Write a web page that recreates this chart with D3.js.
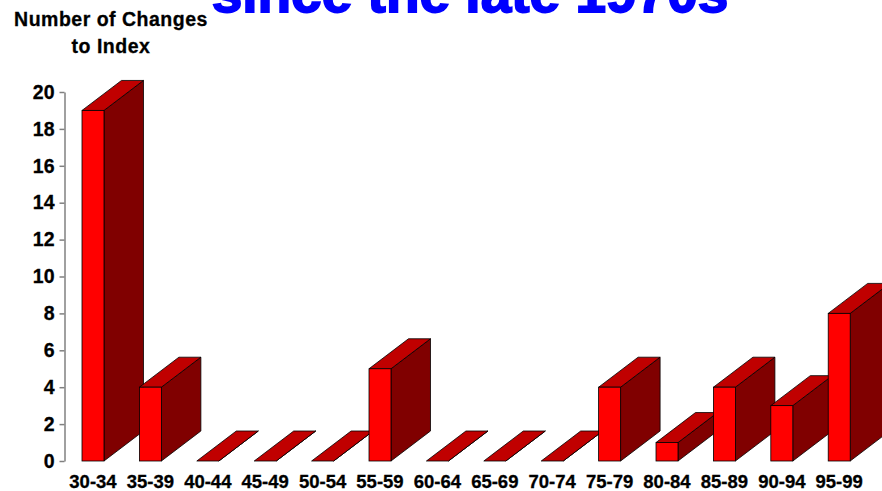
<!DOCTYPE html>
<html>
<head>
<meta charset="utf-8">
<script src="https://cdn.jsdelivr.net/npm/d3@7"></script>
<style>
  html, body { margin: 0; padding: 0; background: #fff; }
  svg { display: block; }
  text { font-family: "Liberation Sans", Arial, sans-serif; font-weight: bold; }
</style>
</head>
<body>
<svg id="chart" width="882" height="491"></svg>
<script>
const categories = ["30-34","35-39","40-44","45-49","50-54","55-59","60-64","65-69","70-74","75-79","80-84","85-89","90-94","95-99"];
const changes = [19, 4, 0, 0, 0, 5, 0, 0, 0, 4, 1, 4, 3, 8];
const yTicks = [0, 2, 4, 6, 8, 10, 12, 14, 16, 18, 20];
const titleText = "since the late 1970s";
const yLabelLines = ["Number of Changes", "to Index"];

const svg = d3.select("#chart");

const y = d3.scaleLinear().domain([0, 20]).range([461, 92]);
const x = d3.scaleBand().domain(categories).range([82, 850.2]).paddingInner(0.617).paddingOuter(0);
const dx = 39.5, dy = 30;
const bw = x.bandwidth();

// title (cut off at the top edge, as in the reference)
svg.append("text")
  .attr("x", 470).attr("y", 11.5)
  .attr("text-anchor", "middle")
  .attr("font-size", 55)
  .attr("fill", "#0000ff")
  .attr("stroke", "#0000ff")
  .attr("stroke-width", 1.8)
  .text(titleText);

// y axis label
svg.append("g").selectAll("text").data(yLabelLines).join("text")
  .attr("x", 111).attr("y", (d, i) => 25.5 + i * 27)
  .attr("text-anchor", "middle")
  .attr("font-size", 19.5)
  .attr("letter-spacing", 0.5)
  .attr("fill", "#000")
  .attr("stroke", "#000")
  .attr("stroke-width", 0.3)
  .text(d => d);

// y axis
const yAxis = svg.append("g")
  .attr("transform", "translate(64.5,0)")
  .call(d3.axisLeft(y).tickValues(yTicks).tickSize(5).tickSizeOuter(0).tickPadding(5));
yAxis.select(".domain").attr("stroke", "#808080").attr("stroke-width", 1.5);
yAxis.selectAll(".tick line").attr("stroke", "#808080").attr("stroke-width", 1.5);
yAxis.selectAll(".tick text")
  .attr("font-size", 19.5)
  .attr("font-family", "Liberation Sans, Arial, sans-serif")
  .attr("font-weight", "bold")
  .attr("fill", "#000")
  .attr("stroke", "#000")
  .attr("stroke-width", 0.3);

// bars
const bars = svg.append("g").selectAll("g").data(categories).join("g");
bars.each(function(c, i) {
  const g = d3.select(this);
  const x0 = x(c), x1 = x0 + bw;
  const yt = y(changes[i]), yb = y(0);
  g.append("polygon")
    .attr("points", [[x1, yt], [x1 + dx, yt - dy], [x1 + dx, yb - dy], [x1, yb]].map(p => p.join(",")).join(" "))
    .attr("fill", "#800000").attr("stroke", "#000").attr("stroke-width", 0.8).attr("stroke-linejoin", "round");
  g.append("polygon")
    .attr("points", [[x0, yt], [x0 + dx, yt - dy], [x1 + dx, yt - dy], [x1, yt]].map(p => p.join(",")).join(" "))
    .attr("fill", "#c00000").attr("stroke", "#000").attr("stroke-width", 0.8).attr("stroke-linejoin", "round");
  if (changes[i] > 0) {
    g.append("rect")
      .attr("x", x0).attr("y", yt).attr("width", bw).attr("height", yb - yt)
      .attr("fill", "#ff0000").attr("stroke", "#000").attr("stroke-width", 0.8);
  }
});

// category labels
svg.append("g").selectAll("text").data(categories).join("text")
  .attr("x", d => x(d) + bw / 2)
  .attr("y", 488)
  .attr("text-anchor", "middle")
  .attr("font-size", 18.5)
  .attr("fill", "#000")
  .attr("stroke", "#000")
  .attr("stroke-width", 0.3)
  .text(d => d);
</script>
</body>
</html>
